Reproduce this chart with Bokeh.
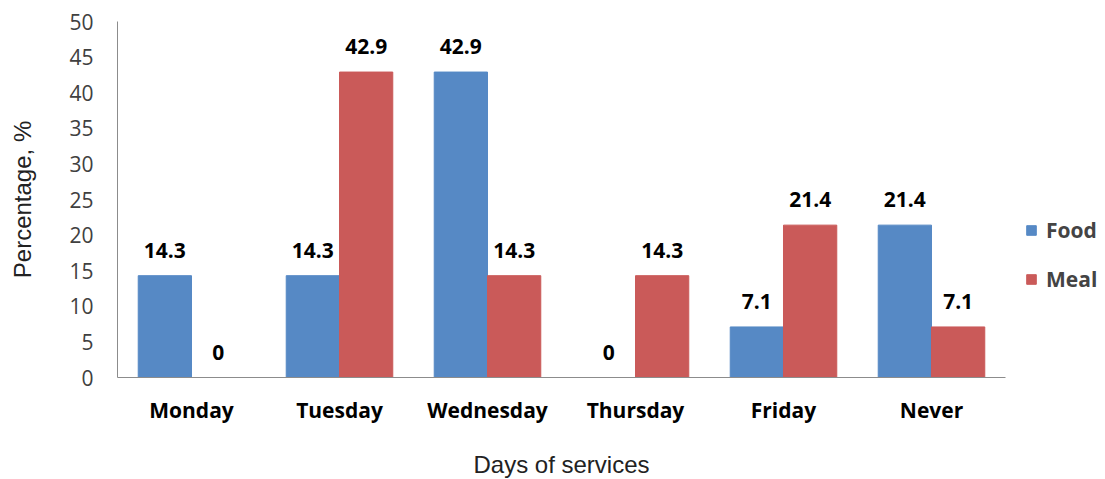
from bokeh.plotting import figure
from bokeh.models import ColumnDataSource, LabelSet, Legend, LegendItem, FixedTicker
from bokeh.core.properties import value
from bokeh.transform import dodge
from bokeh.embed import file_html
from bokeh.resources import INLINE

days = ["Monday", "Tuesday", "Wednesday", "Thursday", "Friday", "Never"]
food = [14.3, 14.3, 42.9, 0, 7.1, 21.4]
meal = [0, 42.9, 14.3, 14.3, 21.4, 7.1]
y_ticks = [0, 5, 10, 15, 20, 25, 30, 35, 40, 45, 50]

src = ColumnDataSource(dict(
    days=days, food=food, meal=meal,
    food_lbl=[f"{v:g}" for v in food],
    meal_lbl=[f"{v:g}" for v in meal],
))

BLUE = "#5689c5"
RED = "#ca5a59"

p = figure(x_range=days, y_range=(0, 50), frame_width=888, frame_height=356,
           output_backend="svg", toolbar_location=None,
           min_border_left=117, min_border_right=0,
           min_border_top=21, min_border_bottom=102)
p.outline_line_color = None
p.xgrid.grid_line_color = None
p.ygrid.grid_line_color = None
p.x_range.range_padding = 0

rf = p.vbar(x=dodge("days", -0.18, range=p.x_range), top="food", width=0.36,
            source=src, fill_color=BLUE, line_color=BLUE)
rm = p.vbar(x=dodge("days", 0.18, range=p.x_range), top="meal", width=0.36,
            source=src, fill_color=RED, line_color=RED)

for col, lbl, off in (("food", "food_lbl", -0.18), ("meal", "meal_lbl", 0.18)):
    p.add_layout(LabelSet(x=dodge("days", off, range=p.x_range), y=col, text=lbl,
                          source=src, y_offset=18, text_align="center",
                          text_baseline="alphabetic", text_font=value("Open Sans"),
                          text_font_style="bold", text_font_size="21px",
                          text_color="#000000"))

# y axis
ya = p.yaxis[0]
ya.ticker = FixedTicker(ticks=y_ticks)
ya.axis_label = "Percentage, %"
ya.axis_label_text_font = "Liberation Sans"
ya.axis_label_text_font_size = "24px"
ya.axis_label_text_font_style = "normal"
ya.axis_label_text_color = "#222222"
ya.axis_label_standoff = 30
ya.major_label_text_font = "Open Sans"
ya.major_label_text_font_size = "21px"
ya.major_label_text_color = "#404040"
ya.major_label_standoff = 24
ya.major_tick_out = 0
ya.major_tick_in = 0
ya.minor_tick_out = 0
ya.minor_tick_in = 0
ya.axis_line_color = "#8c8c8c"

# x axis
xa = p.xaxis[0]
xa.axis_label = "Days of services"
xa.axis_label_text_font = "Liberation Sans"
xa.axis_label_text_font_size = "24px"
xa.axis_label_text_font_style = "normal"
xa.axis_label_text_color = "#222222"
xa.axis_label_standoff = 24
xa.major_label_text_font = "Open Sans"
xa.major_label_text_font_style = "bold"
xa.major_label_text_font_size = "21px"
xa.major_label_text_color = "#000000"
xa.major_label_standoff = 18
xa.major_tick_out = 0
xa.major_tick_in = 0
xa.axis_line_color = "#8c8c8c"

legend = Legend(items=[LegendItem(label="Food", renderers=[rf]),
                       LegendItem(label="Meal", renderers=[rm])],
                location=(20, 84), orientation="vertical")
legend.border_line_color = None
legend.background_fill_alpha = 0
legend.label_text_font = "Open Sans"
legend.label_text_font_style = "bold"
legend.label_text_font_size = "21px"
legend.glyph_width = 12
legend.glyph_height = 12
legend.label_height = 22
legend.label_standoff = 9
legend.spacing = 21
legend.padding = 0
legend.margin = 0
p.add_layout(legend, "right")

open("out.html", "w").write(file_html(p, INLINE))
